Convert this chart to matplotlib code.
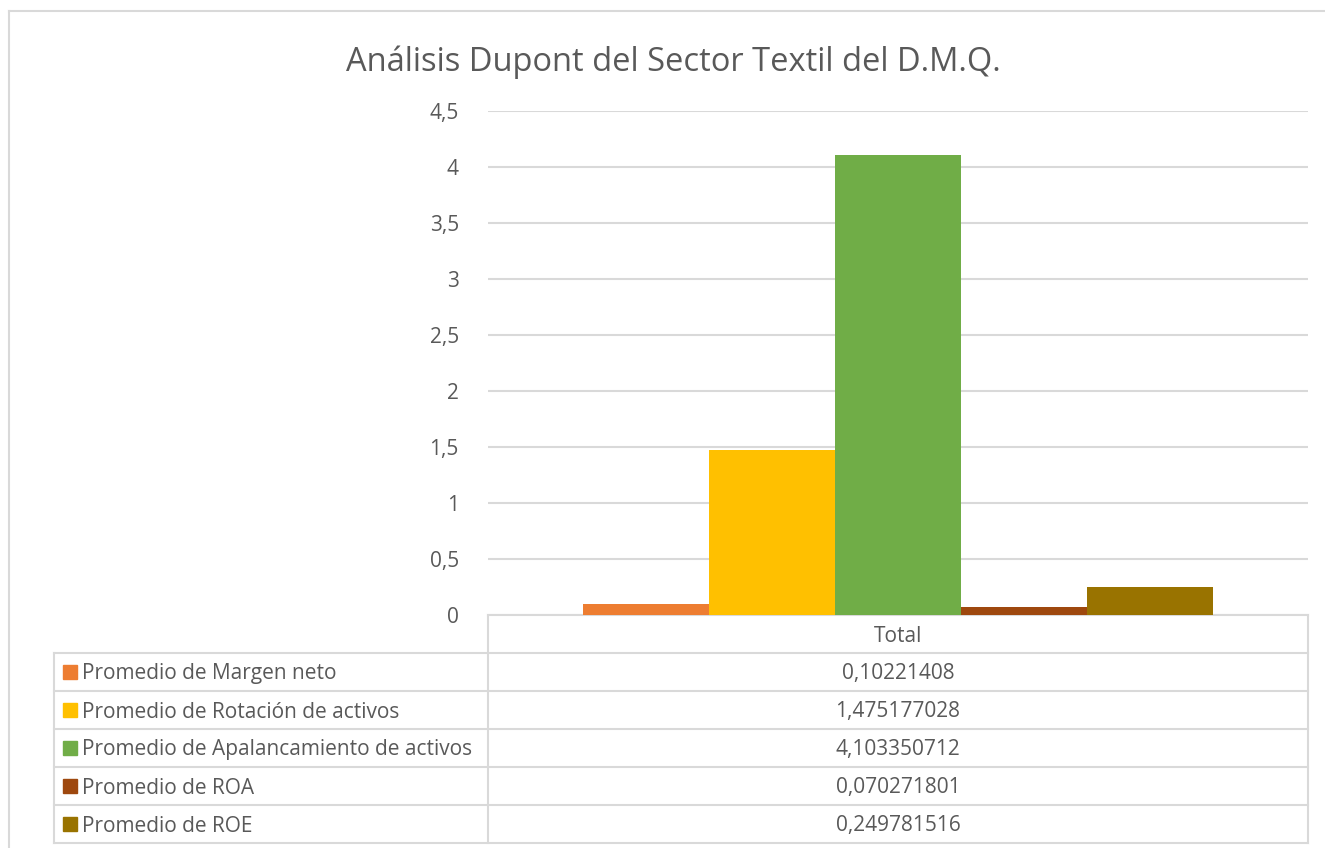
import matplotlib.pyplot as plt
from matplotlib.lines import Line2D
from matplotlib.patches import Rectangle

series = ['Promedio de Margen neto', 'Promedio de Rotación de activos',
          'Promedio de Apalancamiento de activos', 'Promedio de ROA', 'Promedio de ROE']
values = [0.10221408, 1.475177028, 4.103350712, 0.070271801, 0.249781516]
colors = ['#ED7D31', '#FFC000', '#70AD47', '#9E480E', '#997300']
category = 'Total'
yticks = [0, 0.5, 1, 1.5, 2, 2.5, 3, 3.5, 4, 4.5]

plt.rcParams['font.family'] = ['Open Sans', 'DejaVu Sans']
txt = '#595959'
grid = '#d9d9d9'

W, H = 1325, 848
fig = plt.figure(figsize=(W / 100, H / 100), dpi=100)
fig.set_facecolor('white')

def fx(px):
    return px / W

def fy(py):
    return 1 - py / H

# borde del área del gráfico
fig.add_artist(Line2D([fx(9), 1], [fy(11), fy(11)], color=grid, lw=1.5))
fig.add_artist(Line2D([fx(9), fx(9)], [fy(11), 0], color=grid, lw=1.5))

fig.text(fx(673), fy(62), 'Análisis Dupont del Sector Textil del D.M.Q.',
         ha='center', va='center', fontsize=23.5, color=txt)

# área de trazado
left, right, top, bottom = 488, 1308, 111, 615
ax = fig.add_axes([fx(left), fy(bottom), fx(right - left), (bottom - top) / H])
n = len(values)
w = 126 / (right - left)
for i, (v, c) in enumerate(zip(values, colors)):
    ax.bar(0.5 + (i - (n - 1) / 2) * w, v, width=w, color=c, zorder=3)
ax.set_xlim(0, 1)
ax.set_ylim(0, 4.5)
ax.set_yticks(yticks)
ax.set_yticklabels([('%g' % t).replace('.', ',') for t in yticks], fontsize=15, color=txt)
ax.yaxis.grid(True, color=grid, lw=1.5, zorder=0)
ax.tick_params(axis='y', length=0, pad=21)
ax.set_xticks([])
for s in ['top', 'right', 'left']:
    ax.spines[s].set_visible(False)
ax.spines['bottom'].set_color(grid)
ax.spines['bottom'].set_linewidth(1.5)

# tabla de datos
tab = fig.add_axes([0, 0, 1, 1], zorder=-1)
tab.set_xlim(0, W)
tab.set_ylim(H, 0)
tab.axis('off')
row_h = 38
y0 = bottom
tab.plot([left, left], [y0, y0 + row_h * (n + 1)], color=grid, lw=1.5)
tab.plot([right, right], [y0, y0 + row_h * (n + 1)], color=grid, lw=1.5)
tab.plot([54, 54], [y0 + row_h, y0 + row_h * (n + 1)], color=grid, lw=1.5)
tab.text((left + right) / 2, y0 + row_h / 2 + 2, category, ha='center', va='center',
         fontsize=15, color=txt)
for i in range(n + 1):
    yy = y0 + row_h * (i + 1)
    tab.plot([54, right], [yy, yy], color=grid, lw=1.5)
for i, (s, v, c) in enumerate(zip(series, values, colors)):
    yc = y0 + row_h * (i + 1.5)
    tab.add_patch(Rectangle((63, yc - 7), 14, 14, color=c))
    tab.text(82, yc + 2, s, ha='left', va='center', fontsize=15, color=txt)
    tab.text((left + right) / 2, yc + 2, str(v).replace('.', ','), ha='center',
             va='center', fontsize=15, color=txt)

fig.savefig('out.png', dpi=100)
